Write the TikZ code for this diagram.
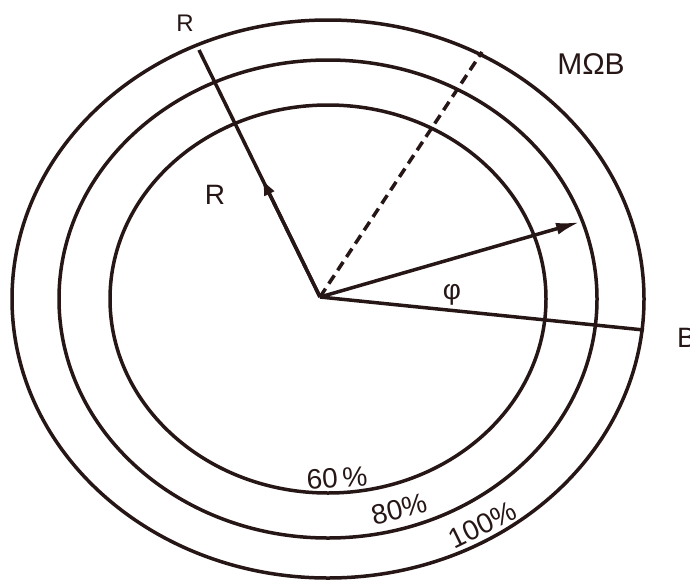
\documentclass[tikz,border=0pt]{standalone}
\usepackage{fontspec}
\setmainfont{Liberation Sans}
\usetikzlibrary{arrows.meta,calc}
\definecolor{ink}{RGB}{38,22,22}

\begin{document}
\begin{tikzpicture}[x=1pt,y=-1pt,
    ring/.style={draw=ink,line width=3.5pt},
    ray/.style={draw=ink,line width=3.5pt},
    lbl/.style={text=ink,inner sep=0pt,font=\fontsize{28}{31}\selectfont},
    tip/.style={-{Latex[length=#1,width=12pt]}}]
    \useasboundingbox (0,0) rectangle (690,581);
    % rings and the points on them
    \coordinate (o) at (328,299);
    \coordinate (c) at (320,297);
    \foreach \X/\Y in {316/279,269/239,218/194}
    {\draw[ring] (o) ellipse [x radius=\X pt, y radius=\Y pt];}
    \coordinate (rtop) at (199,50);
    \coordinate (mob) at (482,52);
    \coordinate (phi) at (580,222);
    \coordinate (b) at (644,330);
    % rays
    \draw[ray] (c) -- (rtop);
    \draw[ray,tip=17pt] (c) -- ($(c)!0.48!(rtop)$) coordinate (rmid);
    \draw[ray,dash pattern=on 10pt off 6pt] (c) -- (mob);
    \draw[ray,tip=24pt] (c) -- (phi);
    \draw[ray] (c) -- (b);
    % labels
    \node[lbl,font=\fontsize{24}{27}\selectfont] (rout) at (185,23) {R};
    \node[lbl] (rin) at (215,195) {R};
    \node[lbl,font=\fontsize{30}{33}\selectfont] (mobl) at (591,64) {MΩB};
    \node[lbl] (phil) at (452,295) {φ};
    \node[lbl,anchor=west] (bl) at (677,338) {B};
    \node[lbl,rotate=4] (p60) at (337,478) {60\,\%};
    \node[lbl,rotate=14] (p80) at (399,509) {80\%};
    \node[lbl,rotate=26] (p100) at (482,525) {100\%};
\end{tikzpicture}
\end{document}
